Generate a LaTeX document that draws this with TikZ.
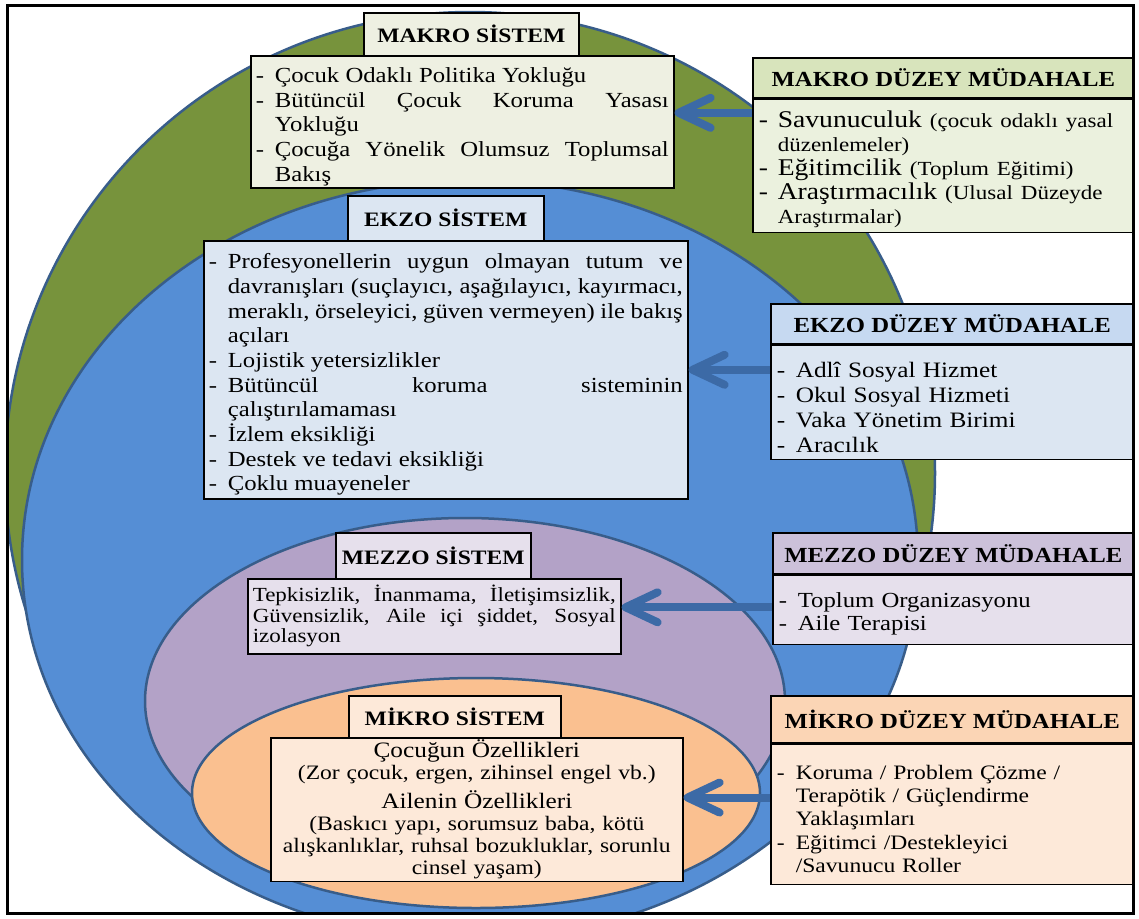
\documentclass[tikz,border=0pt]{standalone}
\usepackage{fontspec}
\setmainfont{Liberation Serif}[FakeStretch=1.15]
\usetikzlibrary{positioning,arrows.meta}

\definecolor{ringline}{HTML}{385D8A}
\definecolor{makrofill}{HTML}{77933C}
\definecolor{ekzofill}{HTML}{558ED5}
\definecolor{mezzofill}{HTML}{B3A2C7}
\definecolor{mikrofill}{HTML}{FAC090}
\definecolor{arrowblue}{HTML}{3C6AA6}
\definecolor{makrolt}{HTML}{EEF0E2}
\definecolor{makrohd}{HTML}{D8E4BC}
\definecolor{makrobd}{HTML}{EBF1DE}
\definecolor{ekzolt}{HTML}{DCE6F2}
\definecolor{ekzohd}{HTML}{C6D9F1}
\definecolor{mezzolt}{HTML}{E6E0EC}
\definecolor{mezzohd}{HTML}{CCC1DA}
\definecolor{mikrolt}{HTML}{FDE9D9}
\definecolor{mikrohd}{HTML}{FBD5B5}

\newlength{\dashw}\setlength{\dashw}{19pt}
\newcommand{\itm}{\par\hangindent=\dashw\hangafter=1\noindent\makebox[\dashw][l]{-}}
\newcommand{\sm}[1]{{\fontsize{20}{24}\selectfont #1}}

\tikzstyle{ring}=[draw=ringline,line width=2.5pt]
\tikzstyle{systitle}=[draw=black,line width=1.6pt,anchor=north west,inner sep=0pt,
                align=center,font=\fontsize{20.5}{24}\selectfont\bfseries]
\tikzstyle{sysbody}=[draw=black,line width=1.6pt,anchor=north west,inner xsep=5pt,
                inner ysep=2pt,align=justify,font=\fontsize{21.5}{24.7}\selectfont]
\tikzstyle{mudhead}=[draw=black,line width=1.6pt,anchor=north west,inner sep=0pt,
                minimum width=381pt,align=center,font=\fontsize{21.5}{24}\selectfont\bfseries]
\tikzstyle{mudbody}=[draw=black,line width=1.6pt,inner xsep=6pt,inner ysep=2pt,
                text width=369pt,align=left,font=\fontsize{21.5}{23}\selectfont]
\tikzstyle{arr}=[draw=arrowblue,line width=8pt,-{Straight Barb[length=32pt,width=30pt,round]}]

\begin{document}
\begin{tikzpicture}[x=1pt,y=-1pt]
        \useasboundingbox (0,0) rectangle (1139,918);
        % nested systems
        \begin{scope}
        \clip (7,5) rectangle (1133,913);
        \draw[ring,fill=makrofill] (470,473) ellipse [x radius=465pt,y radius=461pt];
        \draw[ring,fill=ekzofill] (470,560) ellipse [x radius=448pt,y radius=380pt];
        \draw[ring,fill=mezzofill] (465,701) ellipse [x radius=320pt,y radius=183pt];
        \draw[ring,fill=mikrofill] (476,793) ellipse [x radius=284pt,y radius=115pt];
        \end{scope}

        % makro
        \node [systitle,fill=makrolt,minimum width=215pt,minimum height=43pt] (makroT) at (363,12) {MAKRO SİSTEM};
        \node [sysbody,fill=makrolt,text width=413pt,minimum height=128pt] (makroC) at (250,55)
            {\itm Çocuk Odaklı Politika Yokluğu
             \itm Bütüncül Çocuk Koruma Yasası\linebreak Yokluğu
             \itm Çocuğa Yönelik Olumsuz Toplumsal\linebreak Bakış\par};
        \node [mudhead,fill=makrohd,minimum height=40pt] (makroMH) at (752,57) {MAKRO DÜZEY MÜDAHALE};
        \node [mudbody,fill=makrobd,minimum height=133pt,below=0pt of makroMH,
               font=\fontsize{24}{24}\selectfont] (makroMB)
            {\itm Savunuculuk \sm{(çocuk odaklı yasal}\newline \sm{düzenlemeler)}
             \itm Eğitimcilik \sm{(Toplum Eğitimi)}
             \itm Araştırmacılık \sm{(Ulusal Düzeyde}\newline \sm{Araştırmalar)}\par};

        % ekzo
        \node [systitle,fill=ekzolt,minimum width=196pt,minimum height=45pt] (ekzoT) at (347,195) {EKZO SİSTEM};
        \node [sysbody,fill=ekzolt,text width=474pt,minimum height=258pt] (ekzoC) at (203,240)
            {\itm Profesyonellerin uygun olmayan tutum ve\linebreak davranışları (suçlayıcı, aşağılayıcı, kayırmacı,\linebreak meraklı, örseleyici, güven vermeyen) ile bakış\linebreak açıları
             \itm Lojistik yetersizlikler
             \itm Bütüncül koruma sisteminin\linebreak çalıştırılamaması
             \itm İzlem eksikliği
             \itm Destek ve tedavi eksikliği
             \itm Çoklu muayeneler\par};
        \node [mudhead,fill=ekzohd,minimum width=363pt,minimum height=40pt] (ekzoMH) at (770,303) {EKZO DÜZEY MÜDAHALE};
        \node [mudbody,fill=ekzolt,text width=351pt,minimum height=114pt,below=0pt of ekzoMH,
               font=\fontsize{22}{25}\selectfont] (ekzoMB)
            {\itm Adlî Sosyal Hizmet
             \itm Okul Sosyal Hizmeti
             \itm Vaka Yönetim Birimi
             \itm Aracılık\par};

        % mezzo
        \node [systitle,fill=mezzolt,minimum width=195pt,minimum height=46pt] (mezzoT) at (335,532) {MEZZO SİSTEM};
        \node [sysbody,fill=mezzolt,text width=363pt,minimum height=75pt,
               font=\fontsize{20}{20.5}\selectfont] (mezzoC) at (247,578)
            {\noindent Tepkisizlik, İnanmama, İletişimsizlik,\linebreak Güvensizlik, Aile içi şiddet, Sosyal\linebreak izolasyon\par};
        \node [mudhead,fill=mezzohd,minimum width=361pt,minimum height=41pt] (mezzoMH) at (772,532) {MEZZO DÜZEY MÜDAHALE};
        \node [mudbody,fill=mezzolt,text width=349pt,minimum height=69pt,below=0pt of mezzoMH] (mezzoMB)
            {\itm Toplum Organizasyonu
             \itm Aile Terapisi\par};

        % mikro
        \node [systitle,fill=mikrolt,minimum width=212pt,minimum height=42pt] (mikroT) at (348,695) {MİKRO SİSTEM};
        \node [sysbody,fill=mikrolt,text width=402pt,minimum height=141pt,align=center,
               font=\fontsize{20.5}{22}\selectfont] (mikroC) at (270,737)
            {{\fontsize{22}{22}\selectfont Çocuğun Özellikleri}\\
             (Zor çocuk, ergen, zihinsel engel vb.)\\[6pt]
             {\fontsize{22}{22}\selectfont Ailenin Özellikleri}\\
             (Baskıcı yapı, sorumsuz baba, kötü\\
             alışkanlıklar, ruhsal bozukluklar, sorunlu\\
             cinsel yaşam)};
        \node [mudhead,fill=mikrohd,minimum width=363pt,minimum height=47pt] (mikroMH) at (770,695) {MİKRO DÜZEY MÜDAHALE};
        \node [mudbody,fill=mikrolt,text width=351pt,minimum height=140pt,below=0pt of mikroMH,
               font=\fontsize{20.5}{23.3}\selectfont] (mikroMB)
            {\itm Koruma / Problem Çözme /\newline Terapötik / Güçlendirme\newline Yaklaşımları
             \itm Eğitimci /Destekleyici\newline /Savunucu Roller\par};

        % interventions
        \draw[arr] (makroMB.west |- makroC.east) ++(0,-9) -- ([yshift=9pt]makroC.east);
        \draw[arr] (ekzoMB.west |- ekzoC.east) -- (ekzoC.east);
        \draw[arr] (mezzoMB.west |- mezzoC.east) ++(0,-9) -- ([yshift=9pt]mezzoC.east);
        \draw[arr] (mikroMB.west |- mikroC.east) ++(0,-12) -- ([yshift=12pt]mikroC.east);

        \draw[line width=3pt] (7,5) rectangle (1133,913);
\end{tikzpicture}
\end{document}
